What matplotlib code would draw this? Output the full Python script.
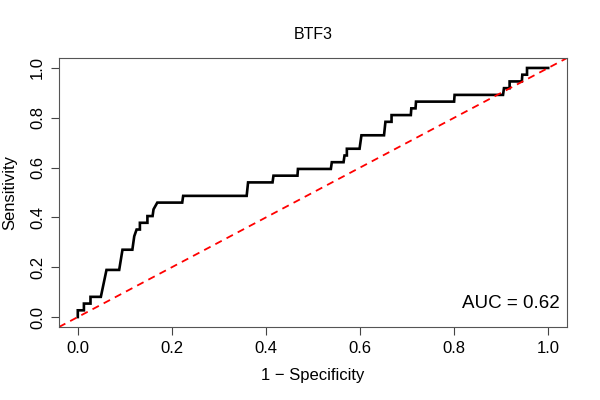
import numpy as np
import matplotlib
matplotlib.use("Agg")
from matplotlib import pyplot as plt

plt.rcParams['font.family'] = ['Liberation Sans', 'DejaVu Sans']

n_pos = 37
# ROC curve vertices (1 - specificity, true positive count)
fpr = [0, 0, 0.013, 0.013, 0.027, 0.027, 0.049, 0.052, 0.061, 0.088, 0.095,
       0.116, 0.120, 0.125, 0.132, 0.132, 0.148, 0.148, 0.159, 0.161, 0.169,
       0.222, 0.224, 0.359, 0.362, 0.414, 0.416, 0.467, 0.468, 0.538, 0.540,
       0.565, 0.567, 0.572, 0.572, 0.599, 0.603, 0.651, 0.654, 0.667, 0.667,
       0.708, 0.709, 0.718, 0.719, 0.800, 0.801, 0.904, 0.906, 0.918, 0.918,
       0.944, 0.945, 0.955, 0.955, 1.0]
tp = [0, 1, 1, 2, 2, 3, 3, 4, 7, 7, 10,
      10, 12, 13, 13, 14, 14, 15, 15, 16, 17,
      17, 18, 18, 20, 20, 21, 21, 22, 22, 23,
      23, 24, 24, 25, 25, 27, 27, 29, 29, 30,
      30, 31, 31, 32, 32, 33, 33, 34, 34, 35,
      35, 36, 36, 37, 37]
tpr = np.array(tp) / n_pos
auc_text = "AUC = 0.62"
title = "BTF3"
ticks = [0.0, 0.2, 0.4, 0.6, 0.8, 1.0]

fig = plt.figure(figsize=(6, 4), dpi=100)
ax = fig.add_axes([0.0983, 0.1825, 0.8467, 0.6725])

ax.plot(fpr, tpr, color="black", lw=1.9, solid_joinstyle="miter")
ax.axline((0, 0), (1, 1), color="red", lw=1.3, ls=(0, (4, 3)))

ax.set_xlim(-0.04, 1.04)
ax.set_ylim(-0.04, 1.04)
ax.set_xticks(ticks)
ax.set_yticks(ticks)
ax.set_xticklabels(["%.1f" % t for t in ticks], fontsize=12)
ax.set_yticklabels(["%.1f" % t for t in ticks], fontsize=12, rotation=90, va="center")
ax.tick_params(direction="out", length=6, width=0.8, color="#444444", pad=4)
for s in ax.spines.values():
    s.set_color("#555555")
    s.set_linewidth(0.8)

ax.set_xlabel("1 \u2212 Specificity", fontsize=12, labelpad=9)
ax.set_ylabel("Sensitivity", fontsize=12, labelpad=9)
ax.set_title(title, fontsize=11.5, pad=14)
ax.text(1.025, 0.056, auc_text, fontsize=13.5, ha="right", va="center")

fig.savefig("out.png", dpi=100)
